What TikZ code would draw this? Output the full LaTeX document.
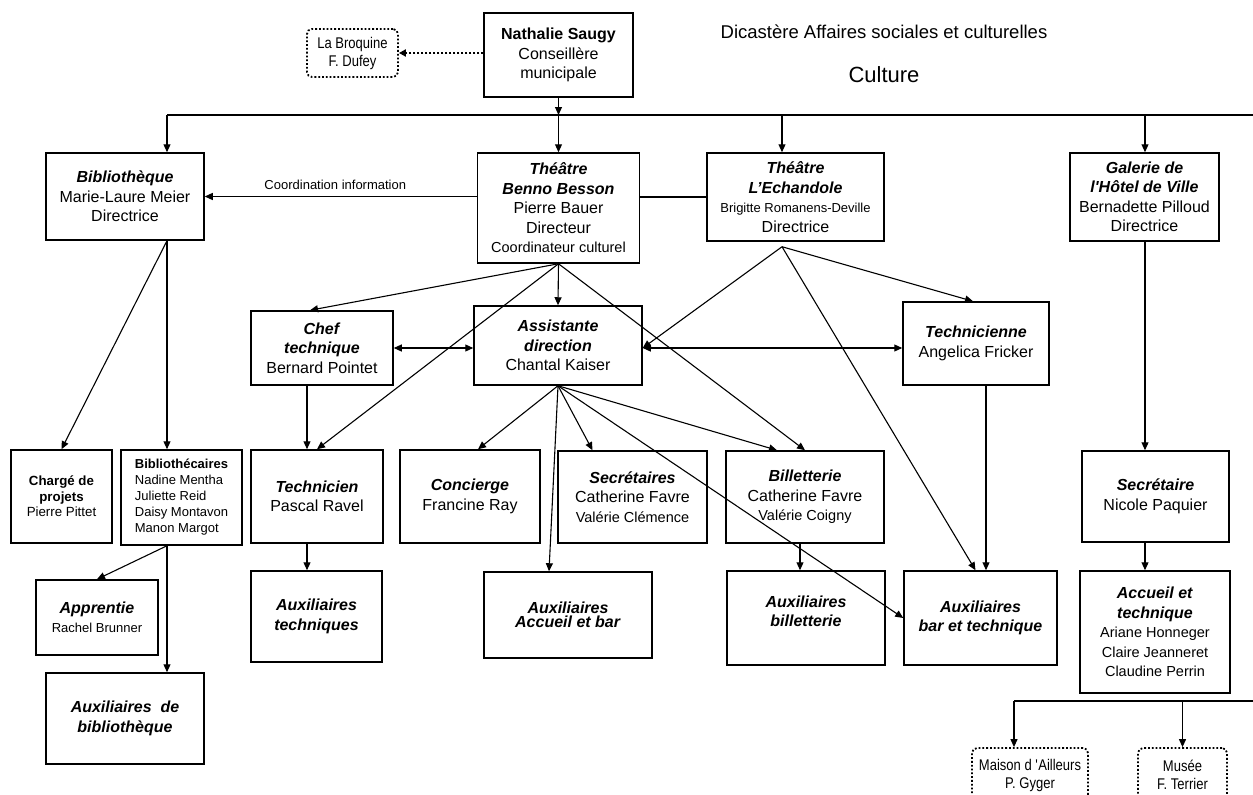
\documentclass[tikz,border=0pt]{standalone}
\usepackage{fontspec}
\setmainfont{Liberation Sans}
\newfontfamily\narrowfont[FakeStretch=0.84]{Liberation Sans}
\usetikzlibrary{arrows.meta}

\newcommand\role[1]{\textbf{\textit{#1}}}
\newcommand\fsmall{\fontsize{14.5}{17}\selectfont}
\newcommand\fsmaller{\fontsize{13}{16}\selectfont}

\begin{document}
\begin{tikzpicture}[x=1pt, y=-1pt, font=\fontsize{16}{19.5}\selectfont,
	box/.style={draw, line width=1.5pt, align=center, inner sep=1pt},
	outbox/.style={draw, dotted, line width=1.8pt, rounded corners=5pt, align=center,
		font=\narrowfont\fontsize{15.5}{18}\selectfont},
	plain/.style={line width=1.1pt},
	link/.style={line width=1.1pt, -{Triangle[length=8pt,width=7pt]}},
	both/.style={line width=1.1pt, {Triangle[length=8pt,width=7pt]}-{Triangle[length=8pt,width=7pt]}},
	dotlink/.style={dotted, line width=2pt, -{Triangle[length=7pt,width=7pt]}}]
	\useasboundingbox (0,0) rectangle (1253,795);
	\clip (0,0) rectangle (1253,795);

	\node[box, minimum width=149pt, minimum height=84pt] (saugy) at (558.5,55) {\textbf{Nathalie Saugy}\\Conseillère\\municipale};
	\node[outbox, minimum width=91pt, minimum height=48pt] (broquine) at (352.5,53) {La Broquine\\F. Dufey};
	\node[font=\fontsize{18.5}{22}\selectfont] (dicastere) at (884,32) {Dicastère Affaires sociales et culturelles};
	\node[font=\fontsize{22}{26}\selectfont] (culture) at (884,75) {Culture};

	\node[box, minimum width=158pt, minimum height=87pt] (biblio) at (125,196.5) {\role{Bibliothèque}\\Marie-Laure Meier\\Directrice};
	\node[box, minimum width=162pt, minimum height=110pt] (benno) at (558.5,208) {\role{Théâtre}\\\role{Benno Besson}\\Pierre Bauer\\Directeur\\{\fsmall Coordinateur culturel}};
	\node[box, minimum width=177pt, minimum height=88pt] (echandole) at (795.5,197) {\role{Théâtre}\\\role{L’Echandole}\\{\fsmaller Brigitte Romanens-Deville}\\Directrice};
	\node[box, minimum width=149pt, minimum height=88pt] (galerie) at (1144.5,197) {\role{Galerie de}\\\role{l\textquotesingle Hôtel de Ville}\\Bernadette Pilloud\\Directrice};

	\node[box, minimum width=142pt, minimum height=74pt] (chef) at (322,348) {\role{Chef}\\\role{technique}\\Bernard Pointet};
	\node[box, minimum width=168pt, minimum height=79pt] (assist) at (558,345.5) {\role{Assistante}\\\role{direction}\\Chantal Kaiser};
	\node[box, minimum width=146pt, minimum height=83pt] (technicienne) at (976,343.5) {\role{Technicienne}\\Angelica Fricker};

	\node[box, minimum width=101pt, minimum height=93pt, font=\fontsize{13.3}{15.5}\selectfont] (charge) at (61.5,496.5) {\textbf{Chargé de}\\\textbf{projets}\\Pierre Pittet};
	\node[box, minimum width=121pt, minimum height=95pt, align=left, font=\fsmaller] (bibliothecaires) at (181.5,497.5) {\textbf{Bibliothécaires}\\Nadine Mentha\\Juliette Reid\\Daisy Montavon\\Manon Margot};
	\node[box, minimum width=132pt, minimum height=93pt] (technicien) at (317,496.5) {\role{Technicien}\\Pascal Ravel};
	\node[box, minimum width=140pt, minimum height=93pt] (concierge) at (470,496.5) {\role{Concierge}\\Francine Ray};
	\node[box, minimum width=149pt, minimum height=92pt] (secretaires) at (632.5,497) {\role{Secrétaires}\\Catherine Favre\\{\fsmall Valérie Clémence}};
	\node[box, minimum width=158pt, minimum height=92pt] (billetterie) at (805,497) {\role{Billetterie}\\Catherine Favre\\{\fsmall Valérie Coigny}};
	\node[box, minimum width=147pt, minimum height=91pt] (secretaire) at (1155.5,496.5) {\role{Secrétaire}\\Nicole Paquier};

	\node[box, minimum width=122pt, minimum height=75pt] (apprentie) at (97,617.5) {\role{Apprentie}\\{\fsmaller Rachel Brunner}};
	\node[box, minimum width=131pt, minimum height=91pt] (auxtech) at (316.5,616.5) {\role{Auxiliaires}\\\role{techniques}};
	\node[box, minimum width=168pt, minimum height=86pt, font=\fontsize{16}{14}\selectfont] (auxaccueil) at (568,615) {\role{Auxiliaires}\\\role{Accueil et bar}};
	\node[box, minimum width=158pt, minimum height=94pt] (auxbillet) at (806,618) {\role{Auxiliaires}\\\role{billetterie}\\[-6pt]};
	\node[box, minimum width=153pt, minimum height=94pt] (auxbar) at (980.5,618) {\role{Auxiliaires}\\\role{bar et technique}};
	\node[box, minimum width=150pt, minimum height=122pt] (accueiltech) at (1155,632) {\role{Accueil et}\\\role{technique}\\{\fsmall Ariane Honneger}\\{\fsmall Claire Jeanneret}\\{\fsmall Claudine Perrin}};
	\node[box, minimum width=158pt, minimum height=91pt] (auxbiblio) at (125,718.5) {\role{Auxiliaires~~de}\\\role{bibliothèque}};

	\node[outbox, minimum width=116pt, minimum height=54pt] (maison) at (1030,775) {Maison d \textquotesingle Ailleurs\\P. Gyger};
	\node[outbox, minimum width=89pt, minimum height=54pt] (musee) at (1182.5,775) {Musée\\F. Terrier};

	% top bus
	\coordinate (busL) at (167,115);
	\coordinate (busR) at (1253,115);
	\coordinate (tapE) at (782,115);
	\coordinate (tapG) at (1145,115);
	\draw[link] (saugy.south) -- (saugy.south |- busL);
	\draw[plain] (busL) -- (busR);
	\draw[link] (busL) -- (busL |- biblio.north);
	\draw[link] (benno.north |- busL) -- (benno.north);
	\draw[link] (tapE) -- (tapE |- echandole.north);
	\draw[link] (tapG) -- (tapG |- galerie.north);
	\draw[dotlink] (saugy.west |- broquine.east) -- (broquine.east);

	\draw[link] (benno.west |- biblio.east) -- node[pos=0.52, above=3pt, font=\fontsize{13}{15}\selectfont] {Coordination information} (biblio.east);
	\draw[plain] (benno.east |- echandole.west) -- (echandole.west);

	\coordinate (biblioS) at (busL |- biblio.south);
	\draw[link] (biblioS) -- (charge.north);
	\draw[link] (biblioS) -- (biblioS |- bibliothecaires.north);
	\coordinate (bibS) at (busL |- bibliothecaires.south);
	\draw[link] (bibS) -- (apprentie.north);
	\draw[link] (bibS) -- (bibS |- auxbiblio.north);

	\draw[link] (benno.south) -- ([xshift=-12pt]chef.north);
	\draw[link] (benno.south) -- (assist.north);
	\draw[link] (benno.south) -- (technicien.north);
	\draw[link] (benno.south) -- (billetterie.north);

	\draw[both] (chef.east) -- (chef.east -| assist.west);
	\draw[both] (chef.east -| assist.east) -- (chef.east -| technicienne.west);
	\coordinate (chefS) at ([xshift=-15pt]chef.south);
	\draw[link] (chefS) -- (chefS |- technicien.north);

	\path (tapE |- echandole.south) ++(0,5) coordinate (echS);
	\draw[link] (echS) -- (chef.east -| assist.east);
	\draw[link] (echS) -- ([xshift=-3pt]technicienne.north);
	\draw[link] (echS) -- ([xshift=-5pt]auxbar.north);
	\coordinate (tnS) at ([xshift=10pt]technicienne.south);
	\draw[link] (tnS) -- (tnS |- auxbar.north);

	\draw[link] (assist.south) -- ([xshift=8pt]concierge.north);
	\draw[link] (assist.south) -- ([xshift=-19pt]auxaccueil.north);
	\draw[link] (assist.south) -- ([xshift=-40pt]secretaires.north);
	\draw[link] (assist.south) -- ([xshift=-28pt]billetterie.north);
	\draw[link] (assist.south) -- (auxbar.west);

	\coordinate (tcS) at ([xshift=-10pt]technicien.south);
	\draw[link] (tcS) -- (tcS |- auxtech.north);
	\coordinate (btS) at ([xshift=-5pt]billetterie.south);
	\draw[link] (btS) -- (btS |- auxbillet.north);

	\draw[link] (tapG |- galerie.south) -- (tapG |- secretaire.north);
	\draw[link] (tapG |- secretaire.south) -- (tapG |- accueiltech.north);

	% bottom bus
	\coordinate (busM) at (1014,701);
	\coordinate (busE) at (1253,701);
	\draw[plain] (busE) -- (busM);
	\draw[link] (busM) -- (busM |- maison.north);
	\draw[link] (musee.north |- busM) -- (musee.north);
\end{tikzpicture}
\end{document}
